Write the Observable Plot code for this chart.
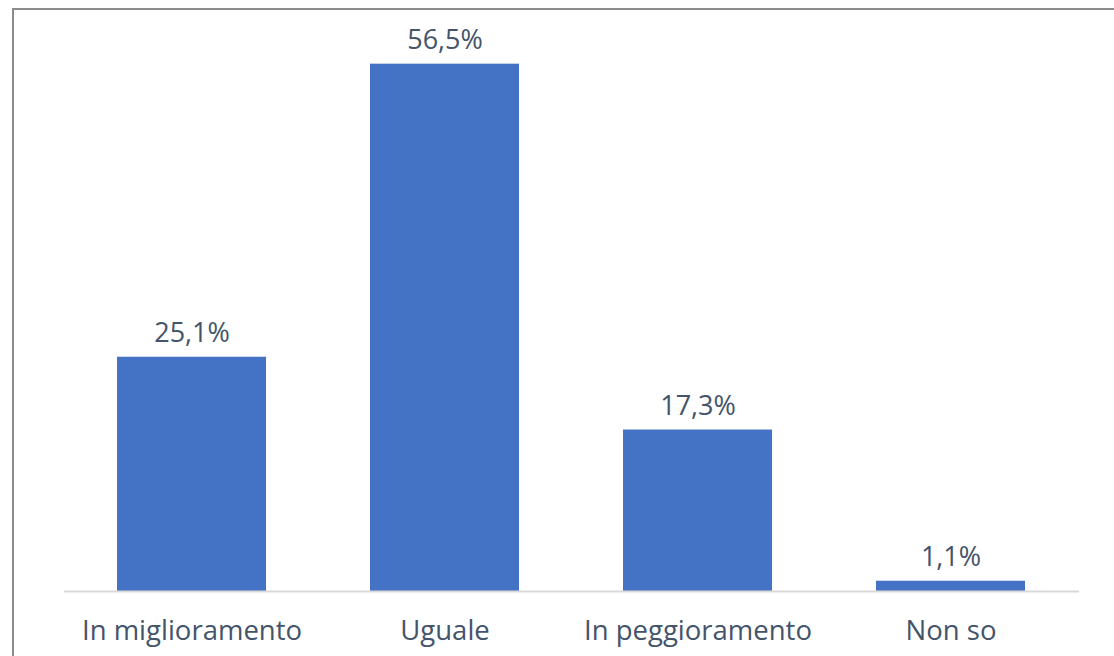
<!DOCTYPE html>
<html>
<head>
<meta charset="utf-8">
<script src="https://cdn.jsdelivr.net/npm/d3@7"></script>
<script src="https://cdn.jsdelivr.net/npm/@observablehq/plot@0.6"></script>
<style>
  html, body { margin: 0; padding: 0; background: #fff; overflow: hidden; }
  #wrap { position: relative; width: 1114px; height: 656px; overflow: hidden; }
  #frame { position: absolute; left: 12px; top: 8px; width: 1200px; height: 800px; border: 2.5px solid #8c8c8c; box-sizing: border-box; }
  #chart { position: absolute; left: 0; top: 0; }
</style>
</head>
<body>
<div id="wrap"><div id="frame"></div><div id="chart"></div></div>
<script>
const categories = ["In miglioramento", "Uguale", "In peggioramento", "Non so"];
const values = [25.1, 56.5, 17.3, 1.1];
const labels = ["25,1%", "56,5%", "17,3%", "1,1%"];

const data = categories.map((c, i) => ({category: c, value: values[i], label: labels[i]}));

const textColor = "#44546a";
const chart = Plot.plot({
  width: 1114,
  height: 656,
  marginLeft: 64,
  marginRight: 35,
  marginTop: 31,
  marginBottom: 65,
  style: {fontFamily: "'Open Sans', sans-serif", background: "transparent"},
  x: {domain: categories, paddingInner: 0.41, paddingOuter: 0.205, label: null},
  y: {domain: [0, 60], axis: null},
  marks: [
    Plot.barY(data, {x: "category", y: "value", fill: "#4472c4"}),
    Plot.ruleY([0], {stroke: "#d9d9d9", strokeWidth: 2}),
    Plot.text(data, {x: "category", y: "value", text: "label", dy: -24, fill: textColor, fontSize: 27, lineAnchor: "middle"}),
    Plot.axisX({tickSize: 0, tickPadding: 29, fontSize: 27.5, color: textColor, label: null})
  ]
});
document.getElementById("chart").appendChild(chart);
</script>
</body>
</html>
